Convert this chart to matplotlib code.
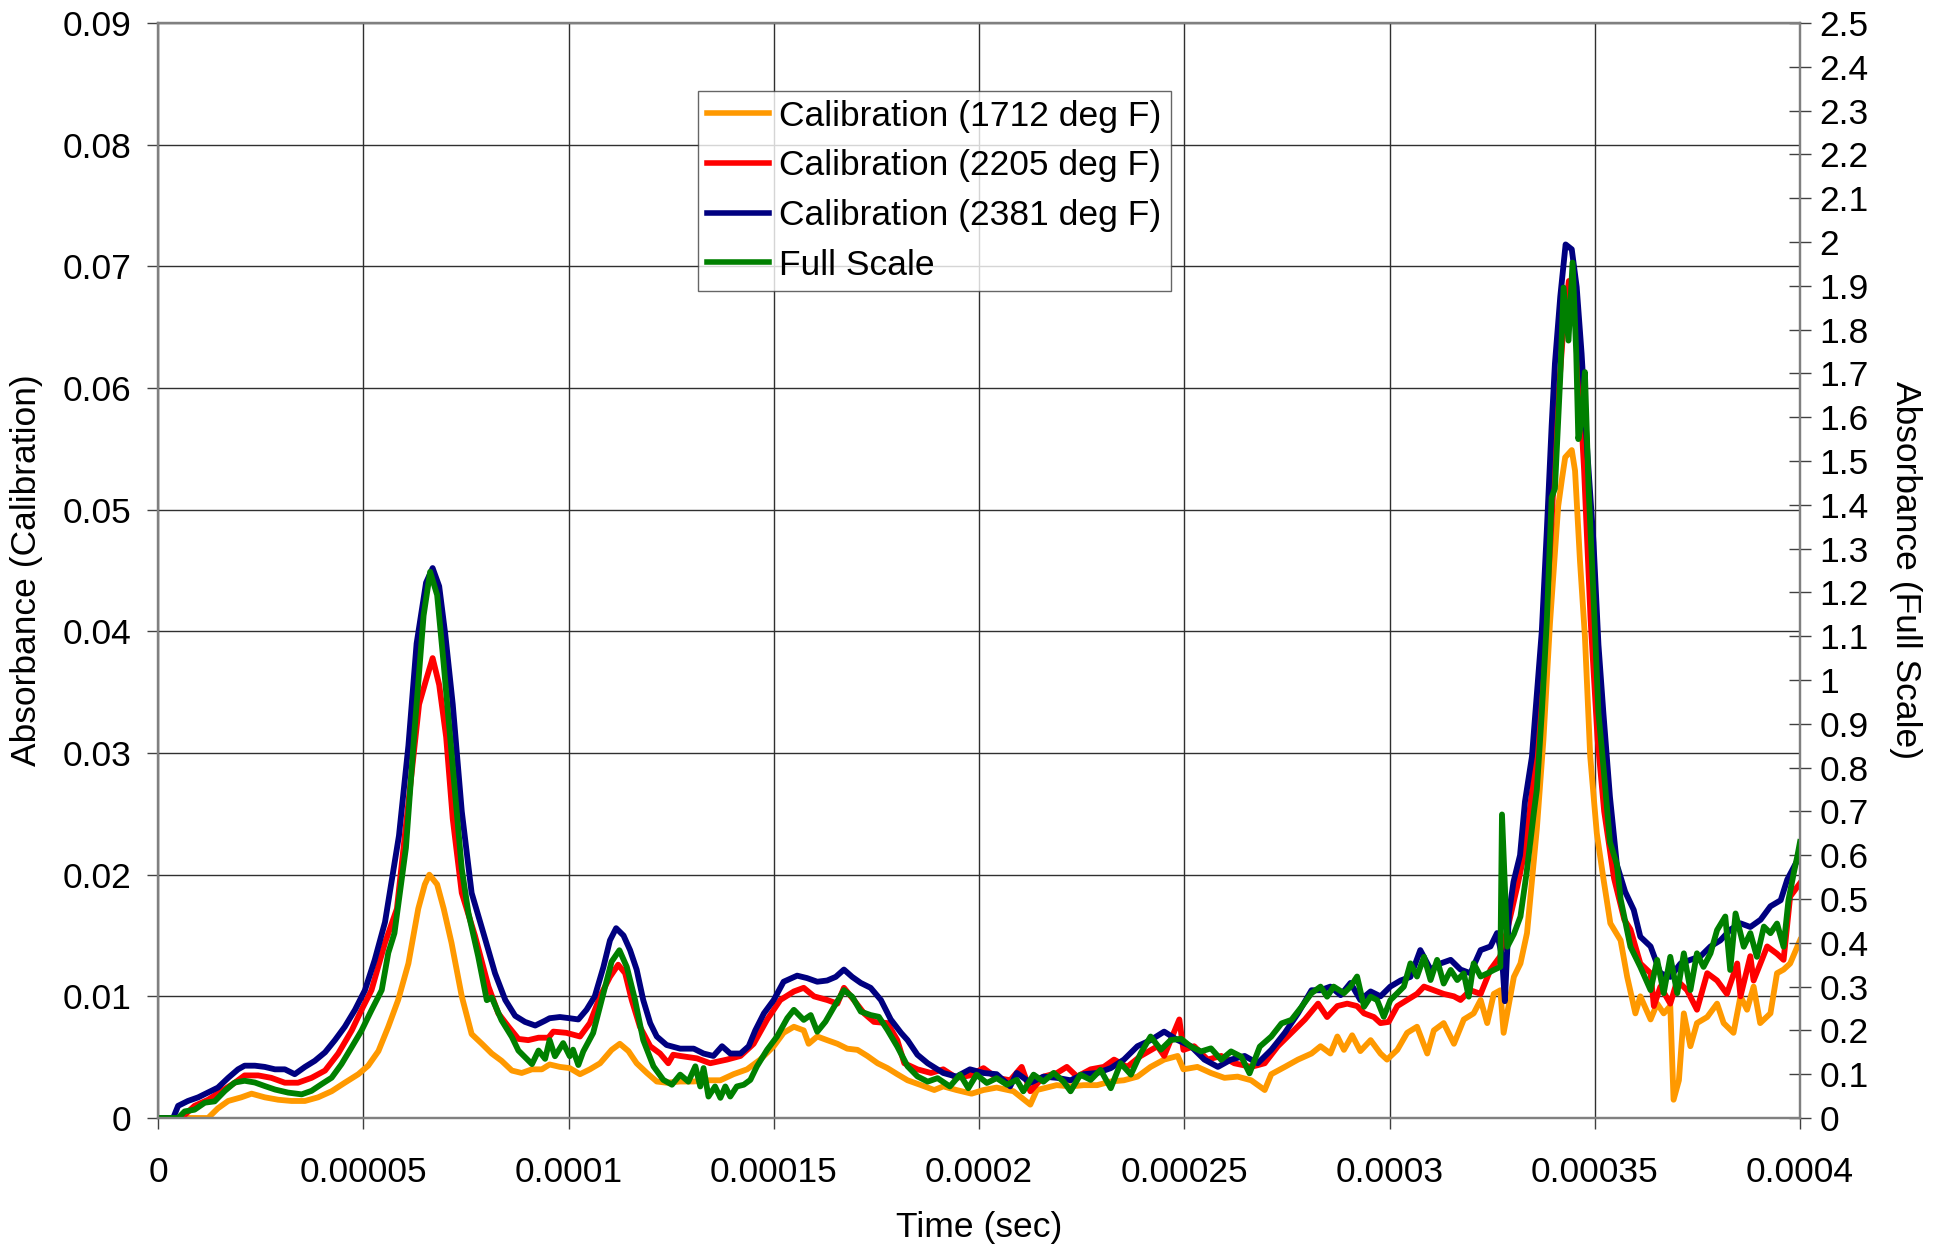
import numpy as np
import matplotlib
matplotlib.use("Agg")
import matplotlib.pyplot as plt
from matplotlib.ticker import FixedLocator, FuncFormatter

plt.rcParams['font.family'] = ['Liberation Sans', 'DejaVu Sans']

# ---------------- data (time in microseconds) ----------------
t_orange_us = [0, 12.2, 14.6, 17.1, 20.3, 22.8, 26.0, 29.3, 32.5, 35.8, 39.0, 42.3, 45.5, 48.8, 51.2, 53.7,
               56.1, 58.5, 61.0, 63.4, 65.0, 66.1, 68.0, 69.6, 71.5, 74.0, 76.4, 78.9, 81.3, 83.7, 86.2,
               88.6, 91.1, 93.5, 95.4, 97.9, 100.3, 102.8, 105.2, 107.7, 110.5, 112.5, 114.6, 116.6, 119.1,
               121.5, 123.9, 127.2, 130.5, 133.7, 137.0, 140.2, 143.5, 146.7, 150.0, 152.4, 154.9, 157.3,
               158.5, 160.6, 163.0, 165.5, 167.9, 170.4, 172.8, 175.3, 177.7, 180.1, 182.6, 185.9, 189.1,
               191.3, 194.5, 198.2, 201.1, 204.3, 208.4, 212.5, 214.1, 218.9, 222.3, 225.5, 228.8, 232.1,
               235.3, 238.6, 241.8, 245.1, 248.4, 249.8, 253.2, 256.5, 259.8, 263.0, 266.3, 269.6, 271.2,
               274.5, 277.7, 281.0, 283.2, 285.6, 287.3, 288.9, 290.9, 292.9, 295.4, 297.8, 299.4, 301.9,
               304.3, 306.7, 309.2, 310.8, 313.2, 315.7, 318.1, 320.5, 322.2, 323.8, 325.4, 327.0, 327.8,
               329.1, 330.3, 331.9, 333.5, 335.9, 337.5, 339.1, 341.1, 342.0, 342.8, 344.4, 345.2, 346.4,
               347.6, 348.9, 350.5, 352.1, 353.8, 356.3, 357.9, 359.9, 361.1, 363.6, 365.2, 366.8, 368.4,
               369.2, 370.5, 371.7, 373.3, 374.9, 377.4, 379.8, 381.4, 383.8, 385.5, 387.1, 388.7, 390.3,
               392.8, 394.4, 396.0, 397.6, 400.0]
orange_vals = [0, 0, 0.0008, 0.0014, 0.0017, 0.0020, 0.0017, 0.0015, 0.0014, 0.0014, 0.0017, 0.0022,
               0.0029, 0.0036, 0.0043, 0.0055, 0.0075, 0.0097, 0.0127, 0.0172, 0.0192, 0.0200, 0.0192,
               0.0172, 0.0144, 0.0100, 0.0069, 0.0061, 0.0053, 0.0047, 0.0039, 0.0037, 0.0040, 0.0040,
               0.0044, 0.0042, 0.0041, 0.0036, 0.0040, 0.0045, 0.0056, 0.0061, 0.0055, 0.0045, 0.0037,
               0.0030, 0.0029, 0.0030, 0.0030, 0.0031, 0.0031, 0.0036, 0.0040, 0.0048, 0.0059, 0.0070,
               0.0075, 0.0072, 0.0061, 0.0067, 0.0064, 0.0061, 0.0057, 0.0056, 0.0051, 0.0045, 0.0041,
               0.0036, 0.0031, 0.0027, 0.0023, 0.0026, 0.0023, 0.0020, 0.0023, 0.0025, 0.0022, 0.0011,
               0.0023, 0.0027, 0.0026, 0.0027, 0.0027, 0.0030, 0.0031, 0.0034, 0.0042, 0.0048, 0.0051,
               0.0040, 0.0042, 0.0037, 0.0033, 0.0034, 0.0031, 0.0023, 0.0036, 0.0042, 0.0048, 0.0053,
               0.0059, 0.0053, 0.0067, 0.0056, 0.0068, 0.0055, 0.0064, 0.0053, 0.0048, 0.0056, 0.0070,
               0.0075, 0.0053, 0.0072, 0.0078, 0.0061, 0.0081, 0.0086, 0.0097, 0.0078, 0.0102, 0.0105,
               0.0070, 0.0094, 0.0116, 0.0127, 0.0152, 0.0238, 0.0311, 0.0407, 0.0503, 0.0525, 0.0543,
               0.0549, 0.0532, 0.0458, 0.0396, 0.0297, 0.0234, 0.0197, 0.0160, 0.0146, 0.0116, 0.0086,
               0.0100, 0.0081, 0.0094, 0.0086, 0.0092, 0.0015, 0.0031, 0.0086, 0.0059, 0.0078, 0.0083,
               0.0094, 0.0078, 0.0070, 0.0100, 0.0089, 0.0108, 0.0078, 0.0086, 0.0119, 0.0122, 0.0127,
               0.0146]

t_red_us = [0, 5.7, 8.9, 12.2, 15.4, 18.7, 21.1, 24.4, 27.6, 30.9, 34.1, 37.4, 40.7, 43.9, 47.2, 49.6, 52.0,
            55.3, 58.2, 60.9, 63.6, 65.3, 66.9, 68.5, 70.2, 71.8, 74.0, 77.2, 80.5, 82.9, 85.4, 87.8, 90.2,
            92.7, 95.1, 96.3, 99.5, 102.8, 105.2, 107.7, 110.1, 112.1, 113.8, 115.4, 117.4, 119.9, 122.3,
            124.3, 125.5, 127.2, 131.3, 134.5, 138.6, 141.9, 145.1, 148.4, 151.6, 154.9, 157.3, 159.8,
            163.0, 165.5, 167.1, 169.5, 172.0, 174.4, 177.7, 180.1, 181.8, 185.0, 188.3, 191.3, 194.5,
            197.8, 201.1, 204.3, 207.6, 210.4, 212.5, 215.7, 219.0, 221.4, 223.9, 227.2, 230.4, 232.9,
            236.1, 239.4, 243.5, 245.1, 248.8, 249.8, 252.4, 255.7, 259.0, 262.2, 266.3, 269.6, 272.8,
            276.1, 279.4, 282.6, 284.8, 287.3, 289.7, 292.1, 293.8, 296.2, 297.8, 299.8, 301.9, 304.3,
            306.7, 308.4, 310.8, 313.2, 315.7, 317.3, 319.7, 322.2, 324.6, 327.0, 328.7, 331.1, 332.8,
            335.2, 337.6, 339.3, 340.9, 342.5, 343.7, 345.0, 345.8, 347.4, 349.0, 350.7, 352.3, 354.7,
            357.2, 358.7, 361.1, 363.6, 364.4, 366.0, 368.4, 370.1, 372.5, 374.9, 377.4, 379.8, 382.2,
            384.7, 385.5, 387.9, 388.7, 392.0, 394.4, 396.0, 397.6, 400.0]
red_vals = [0, 0, 0.0010, 0.0015, 0.0022, 0.0029, 0.0035, 0.0035, 0.0033, 0.0029, 0.0029, 0.0033, 0.0039,
            0.0053, 0.0072, 0.0089, 0.0105, 0.0144, 0.0172, 0.0256, 0.0340, 0.0360, 0.0378, 0.0356, 0.0313,
            0.0246, 0.0185, 0.0150, 0.0108, 0.0086, 0.0075, 0.0065, 0.0064, 0.0066, 0.0066, 0.0071, 0.0070,
            0.0067, 0.0078, 0.0100, 0.0116, 0.0126, 0.0119, 0.0097, 0.0075, 0.0059, 0.0053, 0.0045, 0.0052,
            0.0051, 0.0049, 0.0045, 0.0048, 0.0051, 0.0061, 0.0081, 0.0097, 0.0104, 0.0107, 0.0100, 0.0097,
            0.0094, 0.0107, 0.0097, 0.0086, 0.0079, 0.0078, 0.0064, 0.0045, 0.0040, 0.0037, 0.0040, 0.0033,
            0.0035, 0.0041, 0.0033, 0.0031, 0.0042, 0.0022, 0.0034, 0.0037, 0.0042, 0.0034, 0.0040, 0.0042,
            0.0048, 0.0042, 0.0051, 0.0059, 0.0051, 0.0081, 0.0056, 0.0059, 0.0048, 0.0051, 0.0045, 0.0042,
            0.0045, 0.0059, 0.0070, 0.0081, 0.0094, 0.0083, 0.0092, 0.0094, 0.0092, 0.0086, 0.0083, 0.0078,
            0.0079, 0.0092, 0.0097, 0.0102, 0.0108, 0.0105, 0.0102, 0.0100, 0.0097, 0.0105, 0.0102, 0.0122,
            0.0133, 0.0155, 0.0190, 0.0217, 0.0281, 0.0380, 0.0479, 0.0582, 0.0656, 0.0688, 0.0671, 0.0631,
            0.0533, 0.0409, 0.0311, 0.0252, 0.0197, 0.0163, 0.0155, 0.0127, 0.0119, 0.0092, 0.0108, 0.0094,
            0.0113, 0.0105, 0.0089, 0.0119, 0.0113, 0.0102, 0.0127, 0.0100, 0.0133, 0.0113, 0.0141, 0.0135,
            0.0130, 0.0182, 0.0193]

t_blue_us = [0, 3.7, 4.9, 7.3, 9.8, 12.2, 14.6, 17.1, 19.5, 21.1, 23.6, 26.0, 28.5, 30.9, 33.3, 35.8, 38.2,
             40.7, 43.1, 45.5, 48.0, 50.4, 52.8, 55.3, 58.7, 61.0, 63.0, 65.3, 66.9, 68.5, 70.0, 71.8, 74.0,
             76.4, 79.7, 82.1, 84.6, 87.0, 89.4, 91.9, 94.3, 95.4, 97.9, 100.3, 102.4, 104.4, 106.4, 108.5,
             110.1, 111.6, 113.4, 115.0, 116.6, 118.2, 119.9, 121.5, 123.9, 127.2, 130.5, 132.9, 135.3,
             137.4, 139.4, 141.9, 143.9, 145.5, 147.6, 150.0, 152.4, 155.7, 158.1, 160.6, 163.0, 165.1,
             167.1, 169.1, 171.2, 173.6, 176.1, 178.5, 181.0, 182.6, 185.0, 187.5, 189.9, 191.3, 194.5,
             197.8, 201.1, 204.3, 207.6, 209.2, 212.5, 215.7, 219.0, 222.3, 225.5, 228.8, 232.1, 235.3,
             238.6, 241.8, 245.1, 248.4, 251.6, 254.9, 258.2, 261.4, 264.7, 267.9, 271.2, 274.5, 277.7,
             281.0, 283.2, 285.6, 288.1, 290.5, 292.9, 295.4, 297.8, 300.2, 302.7, 305.1, 307.5, 310.0,
             312.4, 314.9, 317.3, 319.7, 322.2, 324.6, 326.2, 327.4, 328.1, 329.1, 330.2, 331.8, 333.0,
             334.7, 335.9, 337.1, 338.3, 339.5, 340.3, 341.6, 342.9, 344.4, 345.6, 346.8, 348.2, 349.7,
             350.9, 352.1, 353.7, 355.4, 357.4, 359.5, 361.1, 363.6, 366.0, 368.4, 370.9, 373.3, 375.8,
             378.2, 380.6, 383.1, 385.5, 387.9, 390.4, 392.8, 395.3, 396.9, 399.4]
blue_vals = [0, 0, 0.0010, 0.0014, 0.0017, 0.0021, 0.0025, 0.0033, 0.0040, 0.0043, 0.0043, 0.0042, 0.0040,
             0.0040, 0.0036, 0.0042, 0.0047, 0.0054, 0.0064, 0.0075, 0.0089, 0.0105, 0.0130, 0.0161, 0.0232,
             0.0306, 0.0390, 0.0440, 0.0452, 0.0437, 0.0397, 0.0340, 0.0252, 0.0185, 0.0147, 0.0119, 0.0097,
             0.0084, 0.0079, 0.0076, 0.0080, 0.0082, 0.0083, 0.0082, 0.0081, 0.0089, 0.0100, 0.0124, 0.0146,
             0.0156, 0.0150, 0.0138, 0.0122, 0.0097, 0.0078, 0.0067, 0.0060, 0.0057, 0.0057, 0.0053, 0.0051,
             0.0059, 0.0053, 0.0053, 0.0059, 0.0072, 0.0086, 0.0097, 0.0112, 0.0117, 0.0115, 0.0112, 0.0113,
             0.0116, 0.0122, 0.0116, 0.0111, 0.0107, 0.0097, 0.0081, 0.0070, 0.0064, 0.0052, 0.0045, 0.0040,
             0.0037, 0.0034, 0.0040, 0.0037, 0.0036, 0.0026, 0.0037, 0.0029, 0.0034, 0.0033, 0.0031, 0.0036,
             0.0037, 0.0041, 0.0048, 0.0059, 0.0064, 0.0071, 0.0064, 0.0059, 0.0048, 0.0042, 0.0048, 0.0051,
             0.0045, 0.0056, 0.0070, 0.0086, 0.0105, 0.0105, 0.0108, 0.0101, 0.0111, 0.0097, 0.0104, 0.0100,
             0.0108, 0.0113, 0.0116, 0.0138, 0.0122, 0.0127, 0.0130, 0.0122, 0.0119, 0.0138, 0.0141, 0.0152,
             0.0133, 0.0096, 0.0168, 0.0194, 0.0216, 0.0260, 0.0297, 0.0348, 0.0400, 0.0481, 0.0569, 0.0620,
             0.0675, 0.0718, 0.0714, 0.0683, 0.0628, 0.0547, 0.0473, 0.0389, 0.0333, 0.0264, 0.0208, 0.0186,
             0.0171, 0.0149, 0.0141, 0.0119, 0.0116, 0.0127, 0.0130, 0.0133, 0.0141, 0.0146, 0.0155, 0.0160,
             0.0157, 0.0163, 0.0174, 0.0179, 0.0196, 0.0212]

# Full-scale series (right axis units)
t_green_us = [0, 4.9, 6.5, 8.9, 11.4, 13.8, 16.3, 18.7, 21.1, 23.6, 26.0, 28.5, 31.7, 35.0, 37.4, 39.8,
              42.3, 44.7, 47.2, 49.6, 52.0, 54.5, 56.1, 57.6, 60.4, 62.5, 64.7, 66.3, 68.0, 69.6, 71.8,
              74.0, 75.6, 78.0, 80.1, 81.3, 83.7, 86.2, 87.8, 89.4, 91.1, 92.7, 94.3, 95.4, 96.7, 98.7,
              100.3, 101.1, 102.4, 103.6, 106.0, 108.5, 110.5, 112.4, 114.2, 116.2, 118.2, 120.7, 123.1,
              125.2, 127.2, 129.2, 130.9, 132.1, 132.9, 134.1, 135.7, 137.0, 138.2, 139.4, 141.0, 142.7,
              144.3, 145.9, 148.4, 150.8, 153.3, 154.9, 157.3, 159.0, 160.6, 162.6, 164.7, 167.1, 169.1,
              171.2, 173.6, 175.6, 177.7, 180.1, 182.6, 185.0, 187.5, 189.9, 192.9, 195.4, 197.4, 199.4,
              201.9, 204.3, 206.8, 209.2, 210.8, 213.3, 215.7, 218.2, 220.6, 222.3, 224.7, 227.2, 229.6,
              232.1, 234.5, 237.0, 239.4, 241.8, 244.3, 246.7, 249.2, 251.6, 254.1, 256.5, 259.0, 261.4,
              263.9, 265.9, 268.4, 271.2, 273.7, 276.1, 278.6, 281.0, 283.2, 284.8, 286.4, 288.9, 290.5,
              292.1, 293.8, 295.4, 297.0, 298.6, 300.2, 301.9, 303.5, 305.1, 306.7, 308.4, 310.0, 311.6,
              313.2, 314.9, 316.5, 318.1, 319.3, 320.5, 322.2, 323.8, 325.4, 327.0, 327.4, 328.7, 330.3,
              331.9, 333.4, 335.2, 335.9, 337.1, 338.3, 339.5, 340.3, 341.6, 342.4, 343.6, 344.6, 345.5,
              346.0, 346.8, 347.6, 348.5, 349.7, 350.9, 352.1, 353.7, 355.4, 356.3, 358.7, 361.1, 363.6,
              365.2, 366.8, 368.4, 370.1, 371.7, 373.3, 374.9, 376.5, 378.2, 379.8, 381.8, 383.0, 384.3,
              386.3, 387.9, 389.5, 391.2, 392.8, 394.4, 396.0, 397.2, 398.5, 399.4, 400.0]
green_vals = [0, 0, 0.015, 0.019, 0.035, 0.038, 0.062, 0.081, 0.085, 0.081, 0.073, 0.065, 0.058, 0.054,
              0.062, 0.077, 0.092, 0.123, 0.162, 0.200, 0.246, 0.292, 0.377, 0.422, 0.617, 0.886, 1.147,
              1.247, 1.194, 1.036, 0.803, 0.569, 0.469, 0.369, 0.269, 0.275, 0.223, 0.185, 0.154, 0.139,
              0.123, 0.154, 0.135, 0.178, 0.141, 0.171, 0.141, 0.156, 0.121, 0.152, 0.194, 0.285, 0.357,
              0.383, 0.345, 0.270, 0.178, 0.118, 0.087, 0.076, 0.099, 0.083, 0.118, 0.072, 0.114, 0.049,
              0.072, 0.046, 0.072, 0.049, 0.072, 0.076, 0.087, 0.118, 0.156, 0.186, 0.228, 0.247, 0.224,
              0.235, 0.197, 0.220, 0.254, 0.292, 0.277, 0.243, 0.235, 0.231, 0.201, 0.163, 0.118, 0.095,
              0.083, 0.091, 0.072, 0.099, 0.068, 0.099, 0.080, 0.091, 0.076, 0.087, 0.061, 0.099, 0.083,
              0.103, 0.083, 0.061, 0.099, 0.087, 0.110, 0.068, 0.125, 0.099, 0.148, 0.186, 0.156, 0.178,
              0.181, 0.163, 0.152, 0.159, 0.133, 0.152, 0.140, 0.102, 0.163, 0.186, 0.216, 0.224, 0.254,
              0.285, 0.300, 0.277, 0.300, 0.285, 0.300, 0.323, 0.254, 0.277, 0.269, 0.231, 0.269, 0.285,
              0.300, 0.353, 0.323, 0.368, 0.315, 0.361, 0.307, 0.338, 0.315, 0.330, 0.277, 0.353, 0.323,
              0.330, 0.338, 0.345, 0.693, 0.391, 0.420, 0.460, 0.560, 0.700, 0.750, 0.925, 1.130, 1.417,
              1.437, 1.693, 1.896, 1.775, 1.953, 1.744, 1.550, 1.590, 1.703, 1.437, 1.191, 0.925, 0.804,
              0.630, 0.579, 0.500, 0.391, 0.345, 0.292, 0.361, 0.285, 0.368, 0.285, 0.376, 0.292, 0.376,
              0.345, 0.376, 0.429, 0.460, 0.338, 0.467, 0.391, 0.422, 0.368, 0.437, 0.422, 0.444, 0.391,
              0.498, 0.560, 0.600, 0.630]

series_labels = ['Calibration (1712 deg F)', 'Calibration (2205 deg F)',
                 'Calibration (2381 deg F)', 'Full Scale']
x_ticks = [0, 0.00005, 0.0001, 0.00015, 0.0002, 0.00025, 0.0003, 0.00035, 0.0004]
x_tick_labels = ['0', '0.00005', '0.0001', '0.00015', '0.0002', '0.00025', '0.0003', '0.00035', '0.0004']
y_left_ticks = [0, 0.01, 0.02, 0.03, 0.04, 0.05, 0.06, 0.07, 0.08, 0.09]
y_right_ticks = [round(0.1 * i, 1) for i in range(26)]

# ---------------- figure ----------------
W, H = 1944, 1247
fig = plt.figure(figsize=(W / 100, H / 100), dpi=100)
L, R, T, B = 158, 1800, 23, 1118
ax = fig.add_axes([L / W, 1 - B / H, (R - L) / W, (B - T) / H])
ax2 = ax.twinx()

FS = 25.5
LW = 4.2
US = 1e-6

l1, = ax.plot(np.array(t_orange_us) * US, orange_vals, color='#FF9900', lw=LW, label=series_labels[0])
l2, = ax.plot(np.array(t_red_us) * US, red_vals, color='#FF0000', lw=LW, label=series_labels[1])
l3, = ax.plot(np.array(t_blue_us) * US, blue_vals, color='#000080', lw=LW, label=series_labels[2])
l4, = ax2.plot(np.array(t_green_us) * US, green_vals, color='#008000', lw=LW, label=series_labels[3])

ax.set_xlim(0, 0.0004)
ax.set_ylim(0, 0.09)
ax2.set_ylim(0, 2.5)

ax.xaxis.set_major_locator(FixedLocator(x_ticks))
ax.set_xticklabels(x_tick_labels)
ax.yaxis.set_major_locator(FixedLocator(y_left_ticks))
ax.yaxis.set_major_formatter(FuncFormatter(lambda v, p: '%g' % round(v, 3)))
ax2.yaxis.set_major_locator(FixedLocator(y_right_ticks))
ax2.yaxis.set_major_formatter(FuncFormatter(lambda v, p: '%g' % round(v, 2)))

ax.grid(True, color='#303030', lw=1.0)
ax.set_axisbelow(True)

for a in (ax, ax2):
    for s in a.spines.values():
        s.set_color('#808080')
        s.set_linewidth(1.6)

ax.tick_params(axis='x', direction='out', length=8, width=1, color='#404040', labelsize=FS, pad=19)
ax.tick_params(axis='y', direction='out', length=8, width=1, color='#404040', labelsize=FS, pad=11)
ax2.tick_params(axis='y', direction='inout', length=16, width=1, color='#404040', labelsize=FS, pad=6)

fig.text(27 / W, 1 - 570 / H, 'Absorbance (Calibration)', rotation=90, ha='center', va='center', fontsize=FS)
fig.text(1905 / W, 1 - 570 / H, 'Absorbance (Full Scale)', rotation=270, ha='center', va='center', fontsize=FS)
fig.text((L + R) / 2 / W, 1 - 1228 / H, 'Time (sec)', ha='center', va='center', fontsize=FS)

leg = ax2.legend(handles=[l1, l2, l3, l4], loc='upper left', bbox_to_anchor=(698 / W, 1 - 91 / H),
                 bbox_transform=fig.transFigure, borderaxespad=0, fontsize=FS, frameon=True,
                 fancybox=False, handlelength=1.75, handletextpad=0.3, labelspacing=0.47,
                 borderpad=0.25)
leg.get_frame().set_edgecolor('#404040')
leg.get_frame().set_linewidth(1.0)
for h in leg.get_lines():
    h.set_linewidth(4)

fig.savefig('out.png', dpi=100)
